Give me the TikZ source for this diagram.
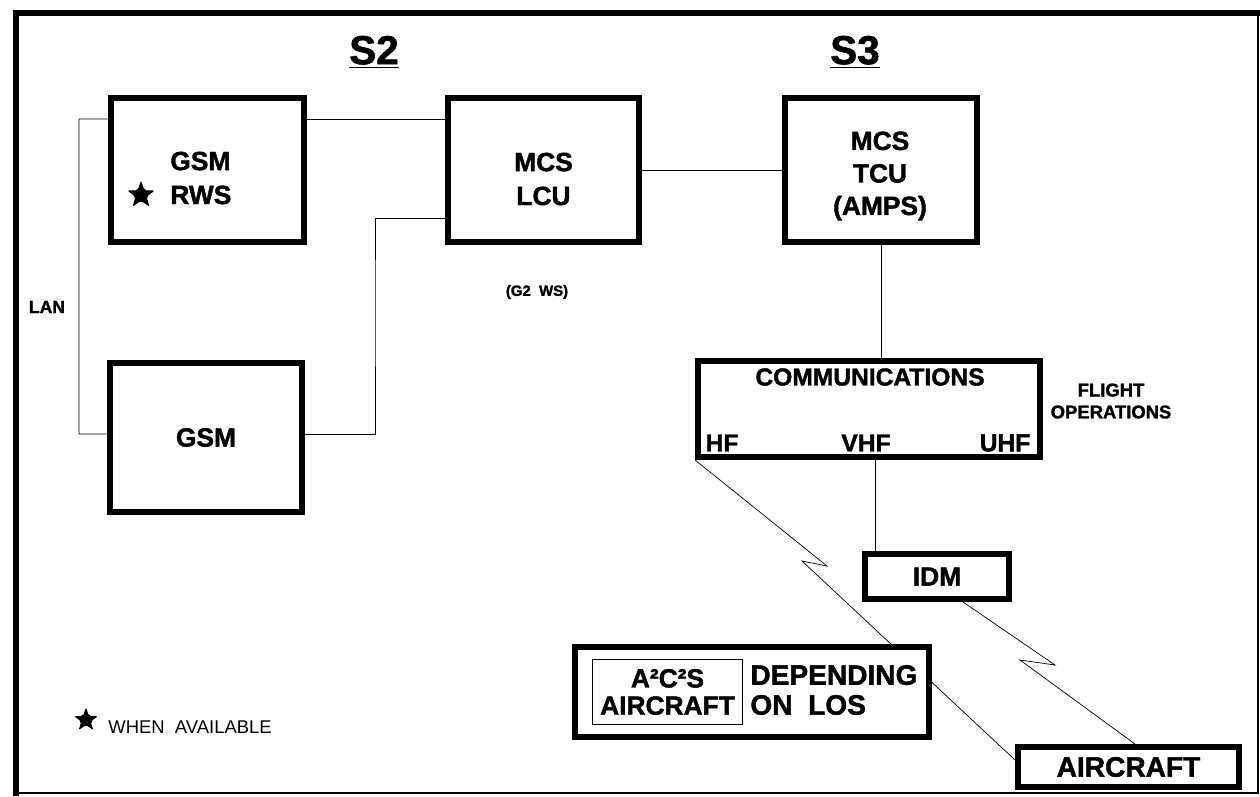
\documentclass[tikz,border=0pt]{standalone}
\usepackage{fontspec}
\setmainfont{Liberation Sans}[BoldFeatures={FakeBold=1.5}]
\usetikzlibrary{positioning,backgrounds,shapes.geometric}
\tikzset{bx/.style={draw,line width=3.4pt,fill=white,inner sep=0pt,align=center,font=\bfseries\fontsize{15}{19.5}\selectfont},
 bt/.style={inner sep=0pt,align=center,font=\bfseries\fontsize{15}{19.3}\selectfont},
 tb/.style={draw,line width=0.6pt,fill=white,inner sep=0pt,align=center},
 t/.style={inner sep=0pt,align=center,font=\bfseries\fontsize{14}{16}\selectfont},
 sm/.style={inner sep=0pt,align=center,font=\bfseries\fontsize{10}{12}\selectfont},
 ast/.style={star,star points=5,star point ratio=2.5,fill,inner sep=0pt,rounded corners=1.1pt,minimum size=#1},
 ln/.style={line width=0.6pt}}

\begin{document}
\begin{tikzpicture}[x=0.02cm,y=-0.02cm]
\useasboundingbox (0,0) rectangle (1260,796);
% frame
\draw[line width=3.4pt] (1260,13) -- (16,13) -- (16,796);\draw[line width=0.8pt] (16,793) -- (1258,793) -- (1258,13);
% S2 side
\node[t,font=\bfseries\fontsize{23}{26}\selectfont](s2) at (374,52){\underline{S2}};\node[t,font=\bfseries\fontsize{23}{26}\selectfont](s3) at (855,52){\underline{S3}};
\node[bx,minimum width=3.86cm,minimum height=2.88cm](rws) at (207.5,170){};\node[bt,anchor=west,align=left](rwst) at (170,178){GSM\\RWS};
\node[ast=0.58cm](st1) at (141,195){};
\node[bx,minimum width=3.84cm,minimum height=2.98cm](gsm) at (206,437.5){GSM};
\node[sm](lan) at (47,307){LAN};
\node[bx,minimum width=3.82cm,minimum height=2.88cm](lcu) at (543.5,170){};\node[bt](lcut) at (543.5,179){MCS\\LCU};
\node[sm,font=\bfseries\fontsize{8.5}{10}\selectfont](g2) at (537,292){(G2\ \ WS)};
% S3 side
\node[bx,minimum width=3.84cm,minimum height=2.88cm](tcu) at (881,170){};\node[bt,font=\bfseries\fontsize{15}{18.5}\selectfont](tcut) at (880,176){MCS\\TCU\\(AMPS)};
\node[bx,minimum width=6.84cm,minimum height=1.92cm](comm) at (869,409){};
\node[t](comt) at (870,377){COMMUNICATIONS};\node[t](hf) at (722,443){HF};\node[t](vhf) at (866,443){VHF};\node[t](uhf) at (1005,443){UHF};
\node[sm,font=\bfseries\fontsize{10.5}{12.5}\selectfont](flt) at (1111,401){FLIGHT\\OPERATIONS};
\node[bx,minimum width=2.88cm,minimum height=0.9cm](idm) at (937,576.5){IDM};
\node[bx,minimum width=7.08cm,minimum height=1.8cm](dep) at (752,692){};
\node[tb,minimum width=3.0cm,minimum height=1.3cm,font=\bfseries\fontsize{15}{15.5}\selectfont](a2) at (667.5,692){A²C²S\\AIRCRAFT};
\node[inner sep=0pt,anchor=west,align=left,font=\bfseries\fontsize{16}{17}\selectfont](los) at (750,690){DEPENDING\\ON\ \ LOS};
\node[bx,minimum width=4.42cm,minimum height=0.8cm,font=\bfseries\fontsize{16}{18}\selectfont](air) at (1128.5,767){AIRCRAFT};
\node[ast=0.5cm](st2) at (86,720){};\node[inner sep=0pt,anchor=west,font=\fontsize{10.5}{12}\selectfont](when) at (108,727){WHEN\ \ AVAILABLE};
% connectors
\begin{scope}[on background layer,ln]
\coordinate(lanT) at (79,119);\coordinate(lanB) at (79,434);\coordinate(jog) at (375,300);
\coordinate(hz1) at (827,566);\coordinate(hz2) at (802,561);\coordinate(iz1) at (1055,665);\coordinate(iz2) at (1020,660);
\draw([yshift=1.02cm]rws.west)--(lanT)--(lanB)--([yshift=0.07cm]gsm.west);
\draw([yshift=1.02cm]rws.east)--([yshift=1.02cm]rws.east -| lcu.west);
\draw([yshift=0.07cm]gsm.east)-|(jog)|-([yshift=-0.96cm]lcu.west);
\draw(lcu)--(tcu);\draw(tcu.south)--(tcu.south |- comm.north);
\draw([xshift=0.26cm]idm.north west)--([xshift=0.26cm]idm.north west |- comm.south);
\draw(comm.south west)--(hz1)--(hz2)--([yshift=0.14cm]air.west);
\draw([xshift=0.52cm]idm.south)--(iz1)--(iz2)--([xshift=0.13cm]air.north);
\end{scope}
\end{tikzpicture}
\end{document}
